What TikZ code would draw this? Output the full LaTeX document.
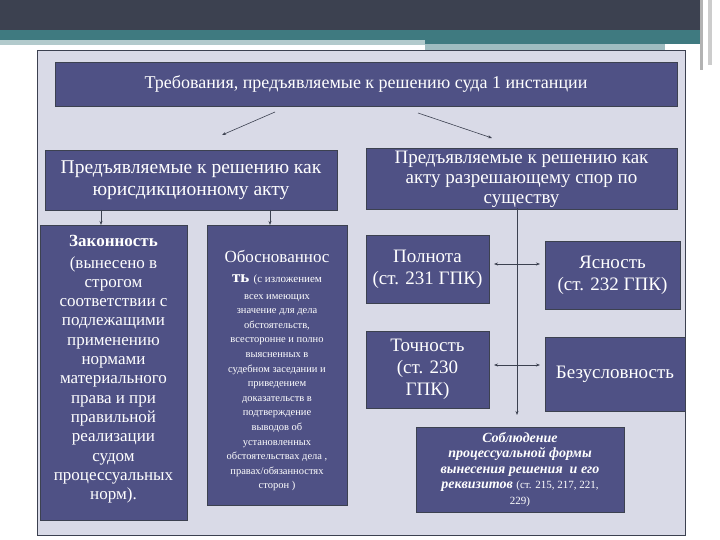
\documentclass[tikz,border=0pt]{standalone}
\usepackage{fontspec}
\setmainfont{Liberation Serif}
\usetikzlibrary{arrows.meta}
\definecolor{boxc}{HTML}{4F5185}
\definecolor{panel}{HTML}{D9DAE7}
\definecolor{topbar}{HTML}{3C4150}
\definecolor{teal}{HTML}{3F7A80}
\begin{document}
\begin{tikzpicture}[x=1pt,y=-1pt,
  bx/.style={draw=topbar,line width=0.8pt,fill=boxc,text=white,align=center,inner sep=2pt},
  ar/.style={draw=topbar,-{Stealth[length=4pt]},line width=0.6pt}]
\useasboundingbox (0,0) rectangle (720,540);
\fill[white] (0,0) rectangle (720,540);
\fill[topbar] (0,0) rectangle (700,30);
\fill[teal] (0,30) rectangle (700,44);
\fill[teal!40] (0,40) rectangle (425,45);
\fill[teal!50] (425,44) rectangle (665,55);
\fill[white] (430,51) rectangle (660,54);
\fill[gray!60] (700,0) rectangle (703,70);
\fill[gray!40] (708,0) rectangle (712,65);
\draw[topbar,line width=0.8pt,fill=panel] (37,50) rectangle (685,535);
\node[bx,minimum width=622,minimum height=44,font=\fontsize{18}{20}\selectfont] (t) at (366,84) {Требования, предъявляемые к решению суда 1 инстанции};
\node[bx,minimum width=292,minimum height=60,font=\fontsize{19.5}{22}\selectfont] (l) at (191,180) {Предъявляемые к решению как\\юрисдикционному акту};
\node[bx,minimum width=311,minimum height=58,font=\fontsize{19}{20}\selectfont] (r) at (521.5,179) {Предъявляемые к решению как\\акту разрешающему спор по\\существу};
\draw[ar] (275,112) -- (222,135);
\draw[ar] (418,113) -- (492,138);
\node[bx,minimum width=147,minimum height=295,anchor=north] (z) at (113.5,225) {};
\node[anchor=north,text=white,align=center,font=\fontsize{17}{19.3}\selectfont] (zt) at (113.5,232) {\textbf{Законность}\\[2pt]
(вынесено в\\строгом\\соответствии с\\подлежащими\\применению\\нормами\\материального\\права и при\\правильной\\реализации\\судом\\процессуальных\\норм).};
\node[bx,minimum width=140,minimum height=280,anchor=north] (o) at (277,225) {};
\node[anchor=north,text=white,align=center,font=\fontsize{17}{20}\selectfont] (oh) at (277,247) {Обоснованнос\\\textbf{ть} {\fontsize{11}{12}\selectfont (с изложением}};
\node[anchor=north,text=white,align=center,font=\fontsize{10.5}{14.6}\selectfont,inner sep=0pt] (ob) at (277,294) {всех имеющих\\значение для дела\\обстоятельств,\\всесторонне и полно\\выясненных в\\судебном заседании и\\приведением\\доказательств в\\подтверждение\\выводов об\\установленных\\обстоятельствах дела ,\\правах/обязанностях\\сторон )};
\draw[ar] (101,210) -- (z.north -| 101,0);
\draw[ar] (270,210) -- (o.north -| 270,0);
\node[bx,minimum width=123,minimum height=68,font=\fontsize{19}{22}\selectfont] (p) at (427.5,269) {Полнота\\(ст. 231 ГПК)};
\node[bx,minimum width=135,minimum height=68,font=\fontsize{19}{22}\selectfont] (ya) at (612.5,275) {Ясность\\(ст. 232 ГПК)};
\node[bx,minimum width=123,minimum height=77,font=\fontsize{19}{22}\selectfont] (to) at (427.5,369.5) {Точность\\(ст. 230\\ГПК)};
\node[bx,minimum width=140,minimum height=74,font=\fontsize{19}{22}\selectfont] (b) at (615,374) {Безусловность};
\node[bx,minimum width=208,minimum height=85,font=\fontsize{14}{15.5}\selectfont] (s) at (520,469.5) {\textbf{\textit{Соблюдение}}\\\textbf{\textit{процессуальной формы}}\\\textbf{\textit{вынесения решения \ и его}}\\\textbf{\textit{реквизитов}} {\fontsize{11}{13}\selectfont (ст. 215, 217, 221,}\\{\fontsize{11}{13}\selectfont 229)}};
\coordinate (v1) at (517,208);
\coordinate (v2) at (517,415);
\coordinate (h1) at (517,264);
\coordinate (h2) at (517,365);
\draw[ar] (v1) -- (v2);
\draw[ar] (h1) -- (494,264);
\draw[ar] (h1) -- (540,264);
\draw[ar] (h2) -- (494,365);
\draw[ar] (h2) -- (540,365);
\end{tikzpicture}
\end{document}
